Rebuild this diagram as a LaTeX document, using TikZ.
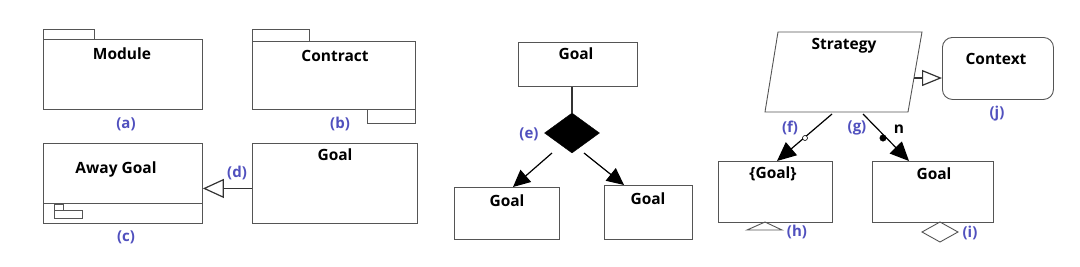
\documentclass[tikz,border=0pt]{standalone}
\usepackage{fontspec}
\setmainfont{Open Sans}
\usetikzlibrary{arrows.meta,shapes.geometric,calc}
\definecolor{linec}{RGB}{85,85,85}
\definecolor{labc}{RGB}{80,80,190}
\tikzset{
  box/.style={draw=linec, line width=0.9pt, inner sep=0pt, anchor=north west, minimum width=#1},
  ttl/.style={font=\fontsize{15.5}{17}\selectfont\bfseries, inner sep=0pt},
  lab/.style={font=\fontsize{15}{17}\selectfont\bfseries, text=labc, inner sep=0pt},
  shp/.style={draw=linec, line width=0.9pt},
  bigarr/.style={-{Triangle[length=17pt, width=16pt]}, line width=1.2pt},
}
\begin{document}
\begin{tikzpicture}[x=1pt,y=-1pt]
\useasboundingbox (0,0) rectangle (1080,266);
% (a) Module
\draw[shp] (43,29) rectangle (94,39);
\node[box=159pt, minimum height=70pt] (mod) at (43,39) {};
\node[ttl] (modt) at (122,54) {Module};
\node[lab] (la) at (126,124) {(a)};
% (b) Contract
\draw[shp] (252,29) rectangle (309,41);
\node[box=163pt, minimum height=68pt] (con) at (252,41) {};
\draw[shp] (367,109) rectangle (415,123);
\node[ttl] (cont) at (335,56) {Contract};
\node[lab] (lb) at (340,124) {(b)};
% (c) Away goal
\node[box=159pt, minimum height=80pt] (away) at (43,143) {};
\draw[shp] (43,203) -- (202,203);
\draw[shp] (54,204) rectangle (63,210);
\draw[shp] (54,210) rectangle (82,218);
\node[ttl] (awayt) at (116,169) {Away Goal};
\node[lab] (lc) at (126,237) {(c)};
% (d) Goal
\node[box=165pt, minimum height=80pt] (gd) at (252,143) {};
\node[ttl] (gdt) at (335,155) {Goal};
\draw[-{Triangle[open, length=21pt, width=19pt]}, line width=1.2pt, black!80] ([yshift=-5pt]gd.west) -- ([yshift=-5pt]away.east);
\node[lab] (ld) at (237,173) {(d)};
% (e) decomposition
\node[box=119pt, minimum height=44pt] (gtop) at (518,42) {};
\node[ttl] (gtopt) at (576,54) {Goal};
\node[diamond, fill=black, draw=black, minimum width=55pt, minimum height=40pt, inner sep=0pt] (dia) at (572,133) {};
\draw[line width=1.2pt, black!80] (dia.north) -- (dia.north |- gtop.south);
\node[box=105pt, minimum height=52pt] (gl) at (454,187) {};
\node[ttl] (glt) at (507,201) {Goal};
\node[box=88pt, minimum height=54pt] (gr) at (604,185) {};
\node[ttl] (grt) at (648,199) {Goal};
\coordinate (e1) at (552,153);
\coordinate (e2) at (584,153);
\coordinate (glt1) at (513,187);
\coordinate (grt1) at (624,185);
\draw[bigarr] (e1) -- (glt1);
\draw[bigarr] (e2) -- (grt1);
\node[lab] (le) at (529,134) {(e)};
% Strategy
\coordinate (s1) at (778,32);
\coordinate (s2) at (922,32);
\coordinate (s3) at (908,112);
\coordinate (s4) at (765,112);
\draw[shp] (s1) -- (s2) -- (s3) -- (s4) -- cycle;
\node[ttl] (strt) at (844,46) {Strategy};
% Context
\node[box=111pt, minimum height=62pt, rounded corners=10pt] (ctx) at (942,37) {};
\node[ttl] (ctxt) at (996,59) {Context};
\coordinate (sr) at (914,78);
\draw[-{Triangle[open, length=20pt, width=16pt]}, line width=1.2pt, black!80] (sr) -- (sr -| ctx.west);
\node[lab] (lj) at (997,114) {(j)};
% {Goal}
\node[box=114pt, minimum height=61pt] (gh) at (718,161) {};
\node[ttl] (ght) at (773,174) {\{Goal\}};
\draw[shp] (765,222) -- (782,230) -- (747,230) -- cycle;
\node[lab] (lh) at (797,232) {(h)};
% Goal (i)
\node[box=121pt, minimum height=61pt] (gi) at (872,161) {};
\node[ttl] (git) at (934,174) {Goal};
\draw[shp] (940,222) -- (958,232) -- (940,242) -- (922,232) -- cycle;
\node[lab] (li) at (970,233) {(i)};
% f and g arrows
\coordinate (f0) at (832,114);
\coordinate (f1) at (777,161);
\coordinate (g0) at (863,114);
\coordinate (g1) at (909,161);
\draw[-{Triangle[length=19pt, width=17pt]}, line width=1.2pt] (f0) -- (f1);
\draw[-{Triangle[length=19pt, width=17pt]}, line width=1.2pt] (g0) -- (g1);
\node[circle, draw=black, fill=white, inner sep=0pt, minimum size=5pt, line width=0.6pt] (fc) at (805,138) {};
\node[circle, draw=black, fill=black, inner sep=0pt, minimum size=6.5pt] (gc) at (883,138) {};
\node[lab] (lf) at (790,128) {(f)};
\node[lab] (lg) at (857,128) {(g)};
\node[ttl] (nn) at (899,129) {n};
\end{tikzpicture}
\end{document}
